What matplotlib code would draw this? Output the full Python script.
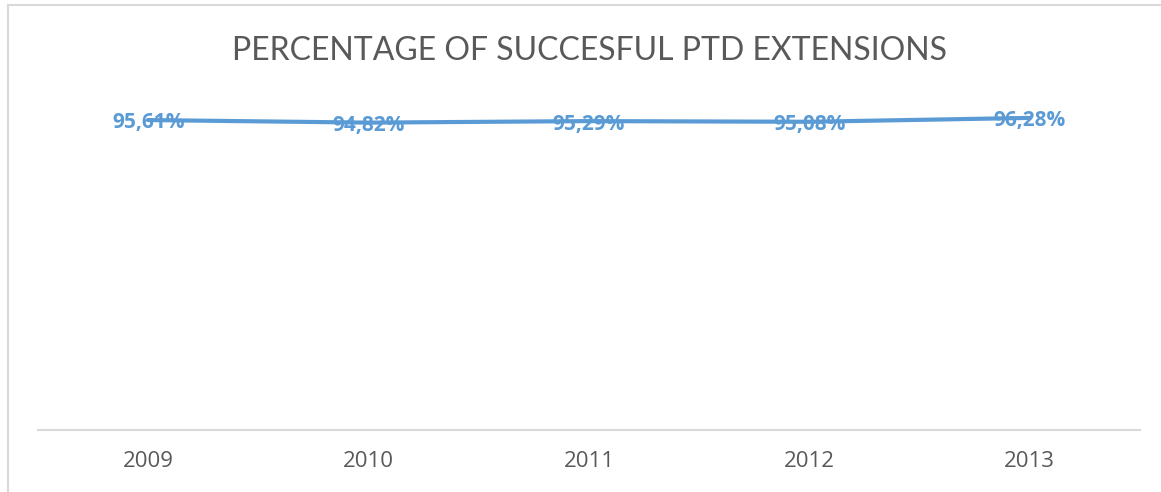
import matplotlib
matplotlib.use('Agg')
from matplotlib import pyplot as plt
from matplotlib.patches import Rectangle

years = ['2009', '2010', '2011', '2012', '2013']
success = [95.61, 94.82, 95.29, 95.08, 96.28]
labels = ['95,61%', '94,82%', '95,29%', '95,08%', '96,28%']

blue = '#5B9BD5'
grey = '#595959'

fig = plt.figure(figsize=(11.61, 4.92), dpi=100)
# chart frame (only left/top edges visible in the crop)
fig.patches.append(Rectangle((8/1161, -0.1), 1.2, (492-5)/492 + 0.1,
                             transform=fig.transFigure, fill=False,
                             edgecolor='#D9D9D9', linewidth=1.5))

ax = fig.add_axes([38/1161, (492-430)/492, (1140-38)/1161, (430-41)/492])
x = list(range(len(years)))
ax.plot(x, success, color=blue, linewidth=3, solid_capstyle='round')
for xi, v, lab in zip(x, success, labels):
    ax.text(xi, v - 0.9, lab, ha='center', va='center', color=blue,
            fontsize=15, fontweight='bold', family=['Open Sans', 'DejaVu Sans'])

ax.set_xlim(-0.5, 4.5)
ax.set_ylim(0, 120)
ax.set_xticks(x)
ax.set_xticklabels(years, color=grey, fontsize=16, family=['Open Sans', 'DejaVu Sans'])
ax.tick_params(axis='x', length=0, pad=15)
ax.set_yticks([])
for s in ['top', 'right', 'left']:
    ax.spines[s].set_visible(False)
ax.spines['bottom'].set_color('#D9D9D9')
ax.spines['bottom'].set_linewidth(1.5)

fig.text(589/1161, 1 - 51/492, 'PERCENTAGE OF SUCCESFUL PTD EXTENSIONS', ha='center',
         va='center', color=grey, fontsize=23,
         family=['Lato', 'Open Sans', 'DejaVu Sans'])

fig.savefig('out.png', dpi=100)
